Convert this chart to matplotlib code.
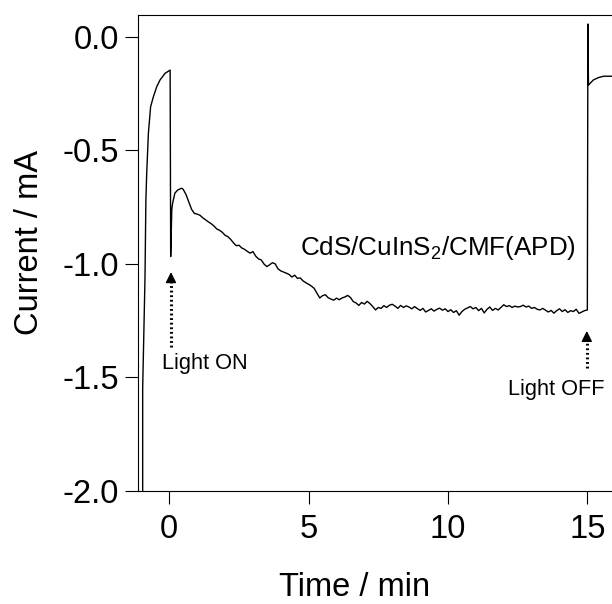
import numpy as np
import matplotlib
matplotlib.use("Agg")
import matplotlib.pyplot as plt

plt.rcParams["font.family"] = ["Liberation Sans", "DejaVu Sans"]
plt.rcParams["axes.unicode_minus"] = False
plt.rcParams["mathtext.fontset"] = "custom"
plt.rcParams["mathtext.rm"] = "Liberation Sans"

# dark period before illumination, then the light-on spike
T_DARK = [-0.955, -0.955, -0.955, -0.872, -0.84, -0.81, -0.75, -0.67, -0.57,
          -0.45, -0.33, -0.15, 0.03, 0.05, 0.09, 0.12, 0.2, 0.3, 0.44]
I_DARK = [-2.3, -2.0, -1.547, -1.063, -0.72, -0.60, -0.425, -0.308, -0.264,
          -0.22, -0.19, -0.161, -0.147, -0.968, -0.76, -0.733, -0.689, -0.675, -0.667]

# photocurrent under light, sampled every 0.1 min from 0.5 to 15.0 min
T_LIGHT = np.round(np.arange(0.5, 15.05, 0.1), 1)
I_LIGHT = [
    -0.672, -0.695, -0.728, -0.760, -0.778, -0.781, -0.786, -0.797, -0.806, -0.815,
    -0.823, -0.833, -0.846, -0.852, -0.861, -0.874, -0.880, -0.892, -0.907, -0.920,
    -0.918, -0.930, -0.936, -0.945, -0.953, -0.946, -0.966, -0.978, -0.983, -1.001,
    -1.012, -1.004, -0.995, -1.000, -1.022, -1.031, -1.036, -1.041, -1.047, -1.058,
    -1.050, -1.064, -1.062, -1.075, -1.083, -1.090, -1.098, -1.108, -1.130, -1.150,
    -1.140, -1.136, -1.149, -1.155, -1.160, -1.151, -1.158, -1.150, -1.146, -1.139,
    -1.148, -1.166, -1.172, -1.183, -1.170, -1.177, -1.165, -1.175, -1.188, -1.203,
    -1.192, -1.196, -1.184, -1.192, -1.182, -1.178, -1.186, -1.196, -1.183, -1.192,
    -1.185, -1.190, -1.198, -1.188, -1.197, -1.205, -1.196, -1.212, -1.205, -1.198,
    -1.208, -1.200, -1.195, -1.204, -1.198, -1.210, -1.202, -1.214, -1.206, -1.226,
    -1.210, -1.200, -1.194, -1.188, -1.198, -1.192, -1.206, -1.196, -1.216, -1.200,
    -1.190, -1.205, -1.196, -1.203, -1.192, -1.180, -1.188, -1.184, -1.192, -1.186,
    -1.190, -1.188, -1.182, -1.190, -1.186, -1.196, -1.192, -1.200, -1.203, -1.196,
    -1.204, -1.212, -1.205, -1.217, -1.206, -1.198, -1.210, -1.202, -1.214, -1.206,
    -1.210, -1.200, -1.218, -1.212, -1.206, -1.203,
]

# light switched off
T_OFF = [15.02, 15.04, 15.1, 15.22, 15.4, 15.58, 15.82, 16.2]
I_OFF = [0.056, -0.213, -0.205, -0.19, -0.18, -0.174, -0.174, -0.174]

t = np.concatenate([T_DARK, T_LIGHT, T_OFF])
cur = np.concatenate([I_DARK, I_LIGHT, I_OFF])

fig = plt.figure(figsize=(6.12, 6.04), dpi=100)
ax = fig.add_axes([0.2263, 0.1871, 0.8245, 0.7886])
ax.plot(t, cur, color="black", lw=1.0)

ax.set_xlim(-1.105, 17.0)
ax.set_ylim(-2.0, 0.097)
ax.set_xticks([0, 5, 10, 15])
ax.set_yticks([0.0, -0.5, -1.0, -1.5, -2.0])
ax.set_yticklabels(["0.0", "-0.5", "-1.0", "-1.5", "-2.0"])
ax.tick_params(direction="out", length=9.6, width=0.8, labelsize=23.5, pad=4.5)
ax.tick_params(axis="x", pad=7)
for s in ax.spines.values():
    s.set_linewidth(0.8)

ax.set_xlabel("Time / min", fontsize=23.5)
ax.set_ylabel("Current / mA", fontsize=23.5)
ax.xaxis.set_label_coords(0.429, -0.17)
ax.yaxis.set_label_coords(-0.185, 0.522)

# arrows marking light on / off
for x0, y0, y1 in [(0.06, -1.364, -1.024), (14.98, -1.46, -1.283)]:
    ax.plot([x0, x0], [y0, y1 - 0.04], color="black", lw=2.2, ls=(0, (0.6, 0.9)))
    ax.annotate("", xy=(x0, y1), xytext=(x0, y1 - 0.06),
                arrowprops=dict(arrowstyle="-|>", color="black", lw=1,
                                mutation_scale=16))

ax.text(-0.27, -1.463, "Light ON", fontsize=15.7, va="baseline", ha="left")
ax.text(12.16, -1.577, "Light OFF", fontsize=15.7, va="baseline", ha="left")
ax.text(4.69, -0.962, r"CdS/CuInS$_2$/CMF(APD)", fontsize=18.7, va="baseline", ha="left")

fig.savefig("out.png", dpi=100)
